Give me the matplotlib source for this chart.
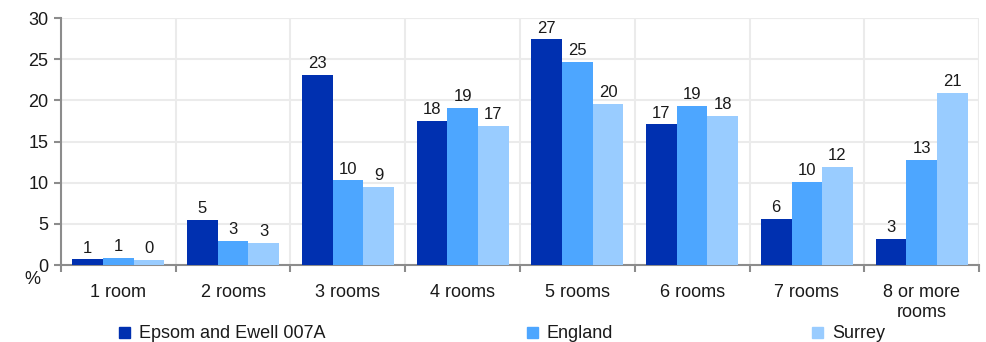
import numpy as np
import matplotlib as mpl
mpl.use("Agg")
import matplotlib.pyplot as plt

# data
categories = ["1 room", "2 rooms", "3 rooms", "4 rooms", "5 rooms",
              "6 rooms", "7 rooms", "8 or more\nrooms"]
epsom   = [0.7, 5.5, 23.1, 17.5, 27.4, 17.1, 5.6, 3.2]
england = [0.9, 2.9, 10.3, 19.1, 24.7, 19.3, 10.1, 12.8]
surrey  = [0.6, 2.7, 9.5, 16.9, 19.6, 18.1, 11.9, 20.9]
epsom_labels   = ["1", "5", "23", "18", "27", "17", "6", "3"]
england_labels = ["1", "3", "10", "19", "25", "19", "10", "13"]
surrey_labels  = ["0", "3", "9", "17", "20", "18", "12", "21"]
series_names = ["Epsom and Ewell 007A", "England", "Surrey"]

# style
COLORS = ["#0030B0", "#4DA6FF", "#99CCFF"]
GRID   = "#EBEBEB"
AXIS   = "#8C8C8C"
TEXT   = "#1A1A1A"

plt.rcParams["font.family"] = ["Liberation Sans", "DejaVu Sans"]

fig = plt.figure(figsize=(9.87, 3.42), dpi=100)
ax = fig.add_axes([0.0618, 0.2251, 0.9301, 0.7222])

n = len(categories)
x = np.arange(n)
bw = 0.267
for i, (vals, labs, col) in enumerate(zip([epsom, england, surrey],
                                          [epsom_labels, england_labels, surrey_labels],
                                          COLORS)):
    pos = x + (i - 1) * bw
    bars = ax.bar(pos, vals, width=bw, color=col, zorder=3, linewidth=0)
    for b, v, lab in zip(bars, vals, labs):
        ax.text(b.get_x() + b.get_width() / 2, v + 0.45, lab,
                ha="center", va="bottom", fontsize=12, color=TEXT)

ax.set_xlim(-0.5, n - 0.5)
ax.set_ylim(0, 30)
ax.set_yticks(range(0, 31, 5))
ax.set_xticks(np.arange(-0.5, n, 1.0))
ax.set_xticklabels([])
ax.set_xticks(x, minor=True)
ax.set_xticklabels(categories, minor=True, fontsize=13, color=TEXT,
                   linespacing=1.2)
ax.tick_params(axis="x", which="minor", length=0, pad=14)
ax.tick_params(axis="x", which="major", length=5, color=AXIS, width=1.5)
ax.tick_params(axis="y", length=5, color=AXIS, width=1.5,
               labelsize=13, labelcolor=TEXT, pad=4)

ax.grid(True, which="major", color=GRID, linewidth=1.5, zorder=0)
for s in ["top", "right"]:
    ax.spines[s].set_visible(False)
for s in ["left", "bottom"]:
    ax.spines[s].set_color(AXIS)
    ax.spines[s].set_linewidth(1.5)
ax.axhline(30, color=GRID, linewidth=1.5, zorder=0)
ax.axvline(n - 0.5, color=GRID, linewidth=1.5, zorder=0)

fig.text(32 / 987, 1 - 279 / 342, "%", fontsize=13, color=TEXT,
         ha="center", va="center")

# legend
leg_x = [124, 532, 817]
for nm, col, lx in zip(series_names, COLORS, leg_x):
    fig.patches.append(mpl.patches.Rectangle(
        ((lx - 5) / 987, 1 - 338 / 342), 11 / 987, 11 / 342,
        transform=fig.transFigure, color=col))
    fig.text((lx + 15) / 987, 1 - 333 / 342, nm, fontsize=13,
             color=TEXT, ha="left", va="center")

fig.savefig("out.png", dpi=100)
